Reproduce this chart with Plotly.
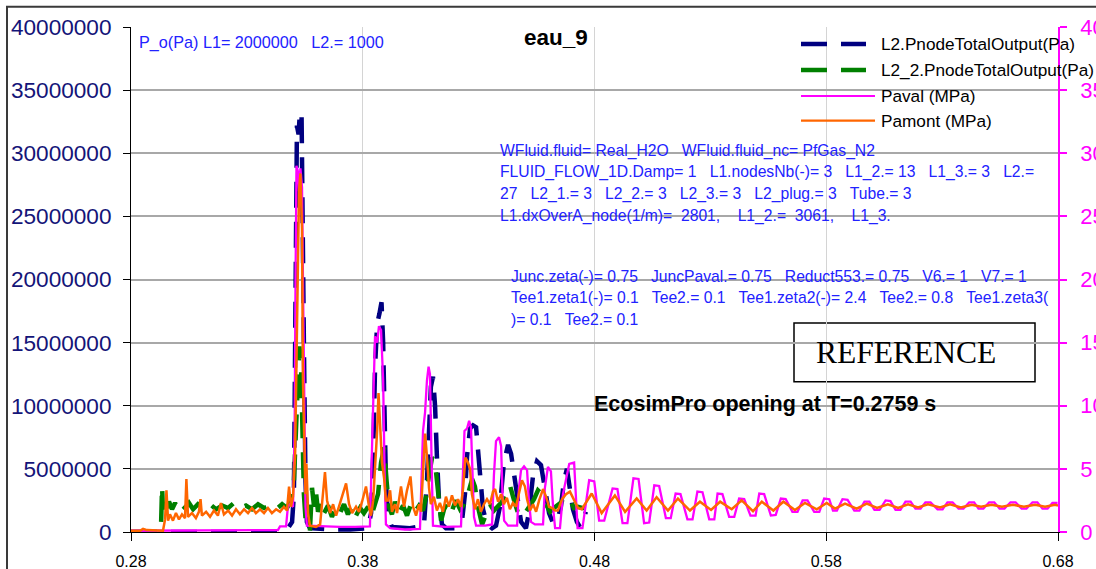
import plotly.graph_objects as go

# ---------------- data ----------------
x_ticks = [0.28, 0.38, 0.48, 0.58, 0.68]
x_tick_labels = ["0.28", "0.38", "0.48", "0.58", "0.68"]

# L2.PnodeTotalOutput (Pa), left axis
l2_t = [0.2800, 0.3456, 0.3477, 0.3495, 0.3503, 0.3510, 0.3514, 0.3516, 0.3523, 0.3529,
        0.3536, 0.3540, 0.3546, 0.3553, 0.3559, 0.3572, 0.3659, 0.3745, 0.3823, 0.3836,
        0.3845, 0.3853, 0.3862, 0.3872, 0.3881, 0.3888, 0.3894, 0.3900, 0.3909, 0.3926,
        0.4004, 0.4064, 0.4077, 0.4086, 0.4094, 0.4103, 0.4112, 0.4120, 0.4129, 0.4142,
        0.4159, 0.4198, 0.4228, 0.4241, 0.4250, 0.4263, 0.4276, 0.4289, 0.4297, 0.4306,
        0.4319, 0.4336, 0.4358, 0.4375, 0.4392, 0.4409, 0.4427, 0.4440, 0.4453, 0.4466,
        0.4483, 0.4504, 0.4517, 0.4535, 0.4552, 0.4569, 0.4586, 0.4604, 0.4621, 0.4638,
        0.4655, 0.4668, 0.4681, 0.4694, 0.4707, 0.4724, 0.4737, 0.4750, 0.4763]
l2_pa = [0, 0, 0.3e6, 0.8e6, 3e6, 20e6, 30e6, 32.2e6, 31.5e6, 33.3e6,
         33.0e6, 28e6, 15e6, 4e6, 0.8e6, 0.3e6, 0.2e6, 0.2e6, 0.3e6, 1.5e6,
         6e6, 13e6, 16.5e6, 17.3e6, 18.2e6, 15e6, 9e6, 4e6, 1.2e6, 0.4e6,
         0.3e6, 0.5e6, 4e6, 9e6, 11.5e6, 12.3e6, 10e6, 6e6, 2.5e6, 0.6e6,
         0.3e6, 0.3e6, 0.8e6, 3e6, 6e6, 8.2e6, 8.45e6, 8.3e6, 6.5e6, 4e6,
         1.8e6, 0.6e6, 0.3e6, 0.5e6, 2e6, 5.5e6, 6.9e6, 6.2e6, 4.5e6, 2.5e6,
         0.8e6, 0.3e6, 1.5e6, 4.5e6, 5.6e6, 5.3e6, 3.5e6, 1.5e6, 0.7e6, 0.8e6,
         2e6, 4e6, 5e6, 3.5e6, 1.8e6, 0.8e6, 0.4e6, 0.9e6, 1.6e6]

# L2_2.PnodeTotalOutput (Pa), left axis
l22_t = [0.2800, 0.2929, 0.2934, 0.2938, 0.2947, 0.2955, 0.2964, 0.2977, 0.2990, 0.3003,
         0.3016, 0.3033, 0.3050, 0.3068, 0.3089, 0.3115, 0.3141, 0.3167, 0.3193, 0.3219,
         0.3244, 0.3270, 0.3296, 0.3322, 0.3348, 0.3374, 0.3400, 0.3426, 0.3452, 0.3473,
         0.3490, 0.3503, 0.3516, 0.3527, 0.3534, 0.3540, 0.3546, 0.3555, 0.3564, 0.3572,
         0.3581, 0.3590, 0.3598, 0.3607, 0.3620, 0.3633, 0.3650, 0.3667, 0.3685, 0.3702,
         0.3719, 0.3736, 0.3754, 0.3771, 0.3788, 0.3805, 0.3823, 0.3836, 0.3849, 0.3866,
         0.3879, 0.3892, 0.3903, 0.3913, 0.3926, 0.3939, 0.3956, 0.3974, 0.3991, 0.4008,
         0.4025, 0.4043, 0.4060, 0.4073, 0.4086, 0.4099, 0.4112, 0.4125, 0.4138, 0.4151,
         0.4168, 0.4185, 0.4202, 0.4220, 0.4237, 0.4254, 0.4272, 0.4284, 0.4297, 0.4315,
         0.4332, 0.4349, 0.4366, 0.4384, 0.4401, 0.4418, 0.4435, 0.4453, 0.4470, 0.4487,
         0.4504, 0.4522, 0.4539, 0.4556, 0.4573, 0.4591, 0.4608, 0.4625, 0.4642, 0.4660,
         0.4677, 0.4694, 0.4711, 0.4729, 0.4746, 0.4763]
l22_pa = [0, 0, 3.6e6, 1.8e6, 2.8e6, 1.9e6, 2.4e6, 1.8e6, 2.3e6, 1.8e6,
          2.2e6, 1.9e6, 2.3e6, 1.8e6, 2.2e6, 1.9e6, 2.2e6, 1.8e6, 2.1e6, 1.9e6,
          2.3e6, 1.9e6, 2.1e6, 1.8e6, 2.2e6, 1.9e6, 2.1e6, 1.8e6, 2.2e6, 1.9e6,
          2.5e6, 4e6, 10e6, 14.7e6, 13e6, 7e6, 3e6, 0.5e6, 0.2e6, 0.1e6,
          3.5e6, 2.0e6, 3.2e6, 1.6e6, 2.4e6, 1.5e6, 2.1e6, 1.2e6, 2.0e6, 1.5e6,
          2.2e6, 1.4e6, 2.1e6, 1.3e6, 1.9e6, 1.5e6, 2.0e6, 1.2e6, 2.0e6, 3.0e6,
          5.5e6, 6.7e6, 4.0e6, 2.0e6, 1.4e6, 2.4e6, 1.5e6, 2.1e6, 1.3e6, 2.2e6,
          1.6e6, 2.1e6, 1.7e6, 2.8e6, 4.5e6, 5.9e6, 5.5e6, 3.0e6, 0.9e6, 1.8e6,
          2.4e6, 1.7e6, 2.5e6, 1.8e6, 2.2e6, 3.0e6, 4.2e6, 3.6e6, 2.0e6, 0.6e6,
          1.5e6, 2.2e6, 1.7e6, 2.1e6, 2.4e6, 3.2e6, 3.7e6, 2.5e6, 1.5e6, 1.9e6,
          1.6e6, 2.1e6, 2.6e6, 3.3e6, 3.0e6, 2.2e6, 1.6e6, 1.9e6, 2.1e6, 2.4e6,
          2.2e6, 2.6e6, 1.9e6, 2.0e6, 1.9e6, 1.9e6]

# Paval (MPa), right axis
paval_t = [0.2800, 0.3098, 0.3434, 0.3443, 0.3469, 0.3477, 0.3486, 0.3499, 0.3506, 0.3510,
           0.3514, 0.3521, 0.3525, 0.3531, 0.3538, 0.3542, 0.3549, 0.3553, 0.3559, 0.3616,
           0.3702, 0.3767, 0.3831, 0.3840, 0.3846, 0.3853, 0.3862, 0.3870, 0.3879, 0.3888,
           0.3894, 0.3900, 0.3918, 0.3982, 0.4047, 0.4054, 0.4060, 0.4069, 0.4077, 0.4084,
           0.4090, 0.4097, 0.4103, 0.4155, 0.4224, 0.4233, 0.4239, 0.4250, 0.4259, 0.4267,
           0.4274, 0.4280, 0.4289, 0.4328, 0.4358, 0.4366, 0.4375, 0.4388, 0.4397, 0.4403,
           0.4410, 0.4427, 0.4466, 0.4474, 0.4483, 0.4496, 0.4509, 0.4517, 0.4526, 0.4543,
           0.4578, 0.4586, 0.4599, 0.4612, 0.4621, 0.4630, 0.4651, 0.4664,
           0.4691, 0.4712, 0.4727, 0.4748, 0.4777, 0.4799, 0.4820, 0.4842,
           0.4878, 0.4899, 0.4921, 0.4942, 0.4968, 0.4990, 0.5014, 0.5036,
           0.5058, 0.5079, 0.5108, 0.5129, 0.5150, 0.5171, 0.5201, 0.5223,
           0.5244, 0.5266, 0.5295, 0.5317, 0.5331, 0.5352, 0.5381, 0.5403,
           0.5424, 0.5446, 0.5473, 0.5495, 0.5511, 0.5532, 0.5561, 0.5582,
           0.5604, 0.5625, 0.5654, 0.5676, 0.5698, 0.5719, 0.5748, 0.5770,
           0.5791, 0.5813, 0.5829, 0.5846, 0.5870, 0.5892, 0.5921, 0.5943,
           0.5965, 0.5986, 0.6008, 0.6030, 0.6056, 0.6077, 0.6099, 0.6120,
           0.6142, 0.6164, 0.6185, 0.6207, 0.6228, 0.6250, 0.6280, 0.6302,
           0.6323, 0.6345, 0.6371, 0.6392, 0.6417, 0.6438, 0.6457, 0.6478,
           0.6503, 0.6525, 0.6548, 0.6569, 0.6595, 0.6617, 0.6643, 0.6664,
           0.6690, 0.6711, 0.6733, 0.6755, 0.6776, 0.6798]
paval_mpa = [0.1, 0.1, 0.15, 0.45, 0.45, 2.0, 2.2, 2.0, 8, 20,
             29, 28.5, 27, 28.8, 27.3, 20, 8, 2, 0.5, 0.45,
             0.4, 0.4, 0.45, 6.7, 11, 15.5, 15, 16.3, 16, 12,
             5, 0.6, 0.3, 0.2, 0.25, 4, 8, 9.5, 12, 13.1,
             12.5, 5.7, 0.5, 0.4, 0.45, 5, 8, 8.2, 8.8, 8.3,
             4, 1.2, 0.5, 0.5, 0.6, 4.5, 7.2, 7.5, 6.8, 3,
             0.9, 0.5, 0.5, 3.5, 4.9, 5.2, 4.9, 2.5, 0.8, 0.6,
             0.6, 3.5, 5.15, 4.8, 2.0, 0.3, 0.3, 3.0,
             5.4, 5.5, 0.3, 0.3, 4.1, 4.0, 0.9, 0.9,
             3.45, 3.4, 0.7, 0.7, 4.25, 4.2, 0.7, 0.75,
             3.7, 3.65, 1.1, 1.1, 3.05, 3.0, 1.0, 1.0,
             3.2, 3.15, 1.0, 1.0, 3.05, 3.0, 1.2, 1.2,
             2.65, 2.6, 1.3, 1.3, 3.05, 3.0, 1.3, 1.35,
             2.65, 2.6, 1.6, 1.6, 2.5, 2.5, 1.6, 1.6,
             2.65, 2.6, 1.7, 1.7, 2.6, 2.55, 1.7, 1.7,
             2.4, 2.4, 1.75, 1.75, 2.5, 2.45, 1.75, 1.75,
             2.4, 2.4, 1.85, 1.85, 2.35, 2.35, 1.8, 1.8,
             2.35, 2.35, 1.85, 1.85, 2.35, 2.35, 1.85, 1.85,
             2.35, 2.35, 1.85, 1.85, 2.35, 2.35, 1.85, 1.85,
             2.35, 2.35, 1.85, 1.85, 2.3, 2.3]

# Pamont (MPa), right axis
pamont_t = [0.2800, 0.2839, 0.2852, 0.2869, 0.2938, 0.2947, 0.2953, 0.2960, 0.2968, 0.2981,
            0.2994, 0.3007, 0.3020, 0.3033, 0.3039, 0.3046, 0.3063, 0.3080, 0.3093, 0.3100,
            0.3106, 0.3124, 0.3141, 0.3158, 0.3175, 0.3188, 0.3201, 0.3219, 0.3236, 0.3253,
            0.3270, 0.3288, 0.3305, 0.3322, 0.3339, 0.3357, 0.3374, 0.3391, 0.3408, 0.3426,
            0.3443, 0.3460, 0.3473, 0.3482, 0.3490, 0.3499, 0.3508, 0.3516, 0.3525, 0.3531,
            0.3538, 0.3542, 0.3546, 0.3553, 0.3557, 0.3564, 0.3572, 0.3598, 0.3616, 0.3624,
            0.3637, 0.3646, 0.3659, 0.3672, 0.3685, 0.3697, 0.3710, 0.3728, 0.3741, 0.3754,
            0.3771, 0.3784, 0.3797, 0.3814, 0.3827, 0.3836, 0.3845, 0.3853, 0.3862, 0.3868,
            0.3875, 0.3883, 0.3892, 0.3900, 0.3909, 0.3918, 0.3926, 0.3939, 0.3948, 0.3965,
            0.3978, 0.3991, 0.4006, 0.4017, 0.4030, 0.4043, 0.4051, 0.4060, 0.4069, 0.4077,
            0.4086, 0.4094, 0.4107, 0.4120, 0.4133, 0.4146, 0.4159, 0.4172, 0.4185, 0.4198,
            0.4211, 0.4224, 0.4233, 0.4243, 0.4254, 0.4263, 0.4271, 0.4284, 0.4297, 0.4310,
            0.4323, 0.4336, 0.4349, 0.4362, 0.4371, 0.4384, 0.4397, 0.4409, 0.4422, 0.4435,
            0.4448, 0.4461, 0.4474, 0.4487, 0.4500, 0.4509, 0.4522, 0.4535, 0.4548, 0.4561,
            0.4578, 0.4591, 0.4604, 0.4617, 0.4630, 0.4642, 0.4660, 0.4677, 0.4694, 0.4711,
            0.4729, 0.4745, 0.4788, 0.4831, 0.4888, 0.4932, 0.4982, 0.5025, 0.5068, 0.5117,
            0.5160, 0.5212, 0.5255, 0.5303, 0.5342, 0.5392, 0.5435, 0.5484, 0.5522, 0.5572,
            0.5615, 0.5665, 0.5708, 0.5759, 0.5802, 0.5838, 0.5881, 0.5931, 0.5975, 0.6019,
            0.6066, 0.6110, 0.6153, 0.6196, 0.6239, 0.6291, 0.6334, 0.6381, 0.6428, 0.6468,
            0.6514, 0.6558, 0.6606, 0.6653, 0.6701, 0.6744, 0.6787, 0.6800]
pamont_mpa = [0.1, 0.1, 0.25, 0.15, 0.1, 1.0, 3.3, 0.9, 1.4, 0.9,
              1.5, 1.0, 1.4, 1.1, 4.2, 1.2, 1.5, 1.1, 1.6, 2.6,
              1.3, 1.6, 1.2, 1.7, 1.3, 2.3, 1.4, 1.7, 1.3, 1.8,
              1.4, 1.8, 1.5, 1.9, 1.5, 1.8, 1.5, 1.9, 1.5, 1.8,
              1.6, 2.0, 1.7, 3.6, 2.0, 2.8, 6, 18, 27, 28.4,
              24, 12, 7.8, 3, 5.4, 1.5, 0.5, 0.4, 0.6, 2.2,
              4.75, 2.5, 1.5, 2.2, 1.3, 2.0, 2.8, 3.85, 2.2, 1.5,
              2.0, 1.6, 2.4, 3.6, 2.0, 1.3, 2.5, 5, 8, 11,
              8, 5.5, 4.3, 2.5, 2.5, 3.3, 1.6, 2.2, 1.5, 3.6,
              2.0, 3.3, 4.4, 2.0, 1.3, 2.2, 1.6, 4.5, 7.8, 6.0,
              3.5, 2.2, 2.8, 1.7, 2.3, 1.6, 2.8, 2.0, 2.9, 2.1,
              2.6, 2.0, 3.5, 5.9, 5.5, 5.0, 3.0, 1.8, 2.6, 1.6,
              2.2, 2.6, 2.2, 3.2, 3.4, 2.4, 3.0, 2.2, 2.7, 1.8,
              2.3, 2.0, 3.2, 4.1, 3.6, 2.6, 1.7, 2.2, 1.6, 2.5,
              3.4, 2.8, 2.0, 1.9, 1.7, 1.7, 2.6, 3.0, 3.2, 2.5,
              1.9, 1.8, 3.05, 1.5, 2.9, 1.6, 2.65, 1.7, 2.75, 1.7,
              2.65, 1.7, 2.4, 1.75, 2.4, 1.8, 2.5, 1.65, 2.4, 1.7,
              2.4, 1.75, 2.3, 1.8, 2.3, 1.85, 2.25, 1.85, 2.25, 1.9,
              2.2, 1.9, 2.2, 1.95, 2.2, 1.95, 2.2, 1.95, 2.15, 2.0,
              2.15, 2.0, 2.15, 2.0, 2.15, 2.0, 2.15, 2.1]

series_names = ["L2.PnodeTotalOutput(Pa)", "L2_2.PnodeTotalOutput(Pa)", "Paval (MPa)", "Pamont (MPa)"]
series_colors = ["#000080", "#008000", "#ff00ff", "#ff6600"]

# ---------------- figure ----------------
FONT = "Liberation Sans, Arial, sans-serif"
W, H = 1096, 569
ML, MR, MT, MB = 131, 38, 27, 37
PW, PH = W - ML - MR, H - MT - MB


def px(x):
    return (x - ML) / PW


def py(y):
    return (H - MB - y) / PH


DASH = "26px,14px"

fig = go.Figure()
fig.add_trace(go.Scatter(x=l2_t, y=l2_pa, mode="lines", name=series_names[0],
                         line=dict(color=series_colors[0], width=4.5, dash=DASH), yaxis="y"))
fig.add_trace(go.Scatter(x=l22_t, y=l22_pa, mode="lines", name=series_names[1],
                         line=dict(color=series_colors[1], width=4.5, dash=DASH), yaxis="y"))
fig.add_trace(go.Scatter(x=paval_t, y=paval_mpa, mode="lines", name=series_names[2],
                         line=dict(color=series_colors[2], width=2.3), yaxis="y2"))
fig.add_trace(go.Scatter(x=pamont_t, y=pamont_mpa, mode="lines", name=series_names[3],
                         line=dict(color=series_colors[3], width=2.5), yaxis="y2"))

shapes = []
# chart-area border (top/left visible)
shapes.append(dict(type="rect", xref="paper", yref="paper", x0=px(7), x1=px(1110),
                   y0=py(590), y1=py(6.7), line=dict(color="#3a3a3a", width=2), layer="above"))
# legend background
shapes.append(dict(type="rect", xref="paper", yref="paper", x0=px(796), x1=px(1056),
                   y0=py(131.7), y1=py(29), fillcolor="white", line=dict(width=0), layer="between"))
# REFERENCE box
shapes.append(dict(type="rect", xref="paper", yref="paper", x0=px(794), x1=px(1035),
                   y0=py(381.7), y1=py(323), fillcolor="white",
                   line=dict(color="black", width=1.5), layer="between"))
# legend samples
leg_rows = [44, 70, 96, 120.7]
leg_ends = [866, 866, 875, 875]
leg_widths = [4.5, 4.5, 2, 2.2]
leg_dash = [DASH, DASH, "solid", "solid"]
for i in range(4):
    shapes.append(dict(type="line", xref="paper", yref="paper", x0=px(801), x1=px(leg_ends[i]),
                       y0=py(leg_rows[i]), y1=py(leg_rows[i]),
                       line=dict(color=series_colors[i], width=leg_widths[i], dash=leg_dash[i]),
                       layer="above"))

ann = []
for i in range(4):
    ann.append(dict(x=px(879), y=py(leg_rows[i]), text=series_names[i], xanchor="left",
                    yanchor="middle", font=dict(family=FONT, size=17.2, color="black")))

BLUE = "#2222ff"
NB = "\u00a0"
ann.append(dict(x=px(555.5), y=py(37), text="<b>eau_9</b>", xanchor="center", yanchor="middle",
                font=dict(family=FONT, size=22.5, color="black")))
ann.append(dict(x=px(137), y=py(42.7), text="P_o(Pa) L1= 2000000" + NB * 3 + "L2.= 1000",
                xanchor="left", yanchor="middle", font=dict(family=FONT, size=16.2, color=BLUE)))

block1 = [
    "WFluid.fluid= Real_H2O" + NB * 3 + "WFluid.fluid_nc= PfGas_N2",
    "FLUID_FLOW_1D.Damp= 1" + NB * 3 + "L1.nodesNb(-)= 3" + NB * 3 + "L1_2.= 13" + NB * 3 + "L1_3.= 3" + NB * 3 + "L2.=",
    "27" + NB * 3 + "L2_1.= 3" + NB * 3 + "L2_2.= 3" + NB * 3 + "L2_3.= 3" + NB * 3 + "L2_plug.= 3" + NB * 3 + "Tube.= 3",
    "L1.dxOverA_node(1/m)=" + NB * 2 + "2801," + NB * 4 + "L1_2.=" + NB * 2 + "3061," + NB * 4 + "L1_3.",
]
block1_y = [150.7, 172.3, 194.3, 216]
for txt, yy in zip(block1, block1_y):
    ann.append(dict(x=px(498), y=py(yy), text=txt, xanchor="left", yanchor="middle",
                    font=dict(family=FONT, size=15.7, color=BLUE)))
block2 = [
    "Junc.zeta(-)= 0.75" + NB * 3 + "JuncPaval.= 0.75" + NB * 3 + "Reduct553.= 0.75" + NB * 3 + "V6.= 1" + NB * 3 + "V7.= 1",
    "Tee1.zeta1(-)= 0.1" + NB * 3 + "Tee2.= 0.1" + NB * 3 + "Tee1.zeta2(-)= 2.4" + NB * 3 + "Tee2.= 0.8" + NB * 3 + "Tee1.zeta3(",
    ")= 0.1" + NB * 3 + "Tee2.= 0.1",
]
block2_y = [276, 297.3, 319.3]
for txt, yy in zip(block2, block2_y):
    ann.append(dict(x=px(508.5), y=py(yy), text=txt, xanchor="left", yanchor="middle",
                    font=dict(family=FONT, size=15.7, color=BLUE)))

ann.append(dict(x=px(592), y=py(404.3), text="<b>EcosimPro opening at T=0.2759 s</b>",
                xanchor="left", yanchor="middle", font=dict(family=FONT, size=21.5, color="black")))
ann.append(dict(x=px(906), y=py(352.4), text="REFERENCE", xanchor="center", yanchor="middle",
                font=dict(family="Liberation Serif, Times New Roman, serif", size=31.5, color="black")))
for a in ann:
    a.update(xref="paper", yref="paper", showarrow=False)

fig.update_layout(
    width=W, height=H,
    margin=dict(l=ML, r=MR, t=MT, b=MB, pad=0),
    paper_bgcolor="white", plot_bgcolor="white",
    showlegend=False,
    font=dict(family=FONT),
    shapes=shapes, annotations=ann,
    xaxis=dict(range=[0.28, 0.68], tickvals=x_ticks, ticktext=x_tick_labels,
               showgrid=True, gridcolor="#d4d4d4", gridwidth=1, zeroline=False,
               showline=True, linecolor="black", linewidth=1,
               ticks="outside", ticklen=8, tickcolor="black", tickwidth=1,
               ticklabelstandoff=7,
               tickfont=dict(family=FONT, size=16, color="black"), automargin=False),
    yaxis=dict(range=[0, 40e6], tickmode="array",
               tickvals=[0, 5e6, 10e6, 15e6, 20e6, 25e6, 30e6, 35e6, 40e6],
               ticktext=["0", "5000000", "10000000", "15000000", "20000000", "25000000",
                         "30000000", "35000000", "40000000"],
               showgrid=True, gridcolor="#a8a8a8", gridwidth=1.5, zeroline=False,
               showline=True, linecolor="black", linewidth=1,
               ticks="outside", ticklen=7, tickcolor="black", tickwidth=1,
               ticklabelstandoff=7,
               tickfont=dict(family=FONT, size=22.6, color="#141478"), automargin=False),
    yaxis2=dict(range=[0, 40], overlaying="y", side="right", anchor="x",
                tickmode="array", tickvals=[0, 5, 10, 15, 20, 25, 30, 35, 40],
                ticktext=["0", "5", "10", "15", "20", "25", "30", "35", "40"],
                showgrid=False, zeroline=False,
                showline=True, linecolor="#ff00ff", linewidth=1.5,
                ticks="outside", ticklen=7, tickcolor="#ff00ff", tickwidth=1.5,
                ticklabelstandoff=9,
                tickfont=dict(family=FONT, size=22, color="#ff00ff"), automargin=False),
)

fig.write_html("out.html", include_plotlyjs=True, config={"displayModeBar": False},
               post_script="document.body.style.margin='0px';document.body.style.overflow='hidden';")
